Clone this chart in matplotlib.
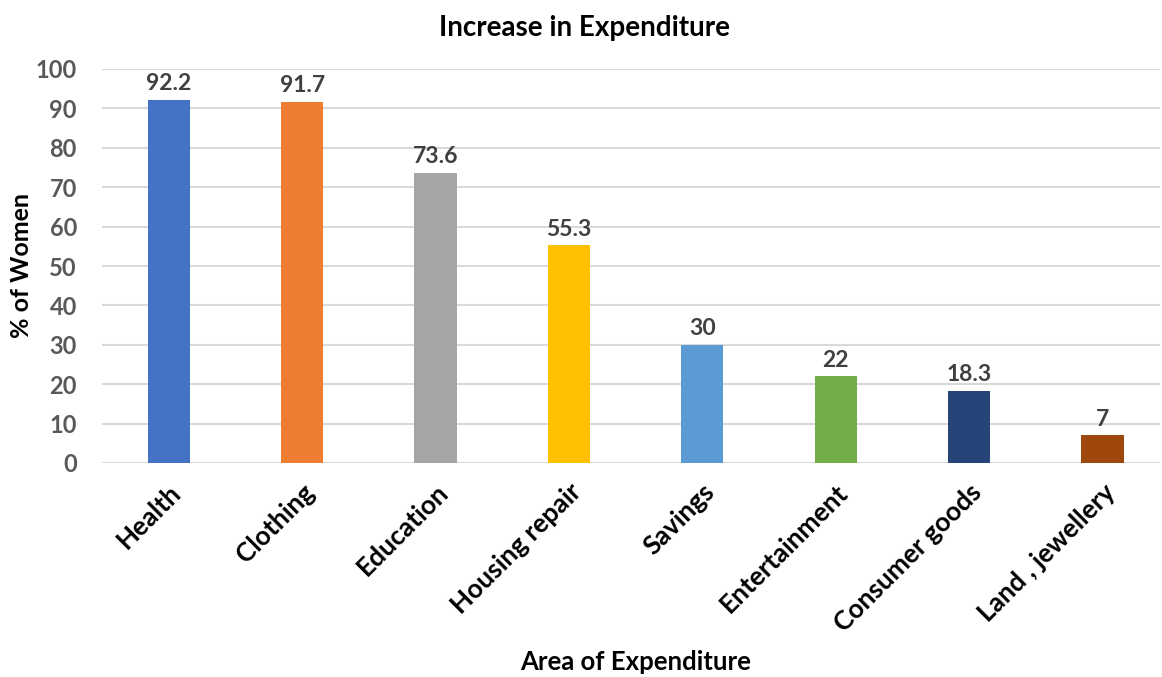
import numpy as np
import matplotlib.pyplot as plt

categories = ['Health', 'Clothing', 'Education', 'Housing repair', 'Savings',
              'Entertainment', 'Consumer goods', 'Land , jewellery']
values = [92.2, 91.7, 73.6, 55.3, 30, 22, 18.3, 7]
labels = ['92.2', '91.7', '73.6', '55.3', '30', '22', '18.3', '7']
colors = ['#4472C4', '#ED7D31', '#A5A5A5', '#FFC000', '#5B9BD5', '#70AD47', '#264478', '#9E480E']

plt.rcParams['font.family'] = ['Lato', 'DejaVu Sans']
plt.rcParams['font.weight'] = 'bold'

fig = plt.figure(figsize=(11.62, 6.77), dpi=100)
ax = fig.add_axes([102/1162, 1-463/677, 1058/1162, (463-69)/677])

x = np.arange(len(categories))
bars = ax.bar(x, values, width=0.315, color=colors, zorder=3)
for xi, v, lab in zip(x, values, labels):
    ax.annotate(lab, (xi, v), xytext=(0, 4), textcoords='offset points',
                ha='center', va='bottom', fontsize=16.5, fontweight='bold', color='#404040')

ax.set_xlim(-0.5, -0.5 + 1058/133.4)
ax.set_ylim(0, 100)
ax.set_yticks(np.arange(0, 101, 10))
ax.yaxis.grid(True, color='#D9D9D9', lw=1.5, zorder=0)
for s in ax.spines.values():
    s.set_visible(False)
ax.tick_params(length=0)
ax.tick_params(axis='y', labelsize=17, labelcolor='#595959', pad=18)
ax.set_xticks(x)
ax.set_xticklabels(categories, rotation=45, ha='right', rotation_mode='anchor',
                   fontsize=19, fontweight='bold')
ax.tick_params(axis='x', pad=12)

fig.text(22/1162, 1-265/677, '% of Women', rotation=90, ha='center', va='center',
         fontsize=18, fontweight='bold')
fig.text(636/1162, 1-662/677, 'Area of Expenditure', ha='center', va='center',
         fontsize=18.5, fontweight='bold')
fig.text(585/1162, 1-28/677, 'Increase in Expenditure', ha='center', va='center',
         fontsize=20, fontweight='bold')

fig.savefig('out.png', dpi=100)
